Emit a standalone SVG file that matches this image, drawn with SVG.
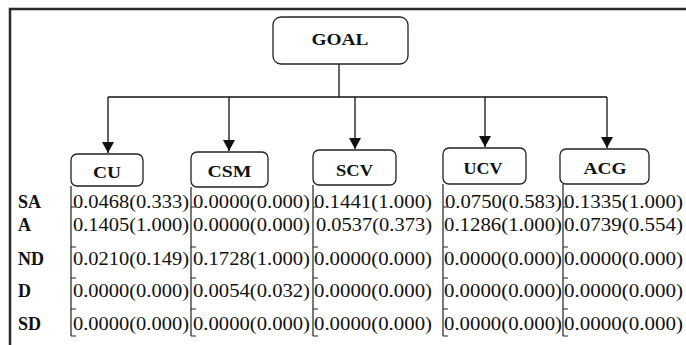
<svg xmlns="http://www.w3.org/2000/svg" width="686" height="345" viewBox="0 0 686 345">
<style>
.box{fill:#fff;stroke:#222;stroke-width:1.3}
.hd{font-family:"Liberation Serif",serif;font-weight:bold;font-size:17px;fill:#111;text-anchor:middle}
.rl{font-family:"Liberation Serif",serif;font-weight:bold;font-size:18px;fill:#111}
.v{font-family:"Liberation Serif",serif;font-size:19px;fill:#111}
.ln{stroke:#111;stroke-width:1.3;fill:none}
.br{stroke:#222;stroke-width:1.2;fill:none}
</style>
<defs>
<marker id="ah" markerUnits="userSpaceOnUse" markerWidth="12" markerHeight="13" refX="11" refY="6" orient="auto">
<path d="M0,0 L11,6 L0,12 Z" fill="#111"/>
</marker>
</defs>
<rect width="686" height="345" fill="#fff"/>
<g id="frame">
<path d="M10,345 V9 H686" fill="none" stroke="#2a2a2a" stroke-width="2.5"/>
</g>
<g id="connectors">
<path class="ln" d="M339,64 V97"/>
<path class="ln" d="M108,97 H607"/>
<path class="ln" d="M108,97 V153" marker-end="url(#ah)"/>
<path class="ln" d="M229,97 V151" marker-end="url(#ah)"/>
<path class="ln" d="M355,97 V149" marker-end="url(#ah)"/>
<path class="ln" d="M485,97 V147" marker-end="url(#ah)"/>
<path class="ln" d="M607,97 V148" marker-end="url(#ah)"/>
</g>
<g id="goal">
<rect class="box" x="273" y="17" width="135" height="47" rx="8"/>
<text class="hd" x="340" y="45" font-size="18" textLength="57" lengthAdjust="spacingAndGlyphs">GOAL</text>
</g>
<g id="cu">
<rect class="box" x="71" y="154" width="72" height="32" rx="6"/>
<text class="hd" x="107" y="178" textLength="28" lengthAdjust="spacingAndGlyphs">CU</text>
</g>
<g id="csm">
<rect class="box" x="191" y="152" width="77" height="35" rx="6"/>
<text class="hd" x="229.5" y="177" textLength="44" lengthAdjust="spacingAndGlyphs">CSM</text>
</g>
<g id="scv">
<rect class="box" x="313" y="150" width="83" height="35" rx="6"/>
<text class="hd" x="354.5" y="175.5" textLength="37" lengthAdjust="spacingAndGlyphs">SCV</text>
</g>
<g id="ucv">
<rect class="box" x="443" y="148" width="83" height="36" rx="6"/>
<text class="hd" x="483" y="173.5" textLength="39" lengthAdjust="spacingAndGlyphs">UCV</text>
</g>
<g id="acg">
<rect class="box" x="560" y="149" width="89" height="35" rx="6"/>
<text class="hd" x="605" y="173.5" textLength="43" lengthAdjust="spacingAndGlyphs">ACG</text>
</g>
<g id="brackets">
<path class="br" d="M71,186 V336 M71,207 h5 M71,247 h5 M71,278 h5 M71,309 h5 M71,336 h5"/>
<path class="br" d="M191,187 V336 M191,207 h5 M191,247 h5 M191,278 h5 M191,309 h5 M191,336 h5"/>
<path class="br" d="M313,185 V336 M313,207 h5 M313,247 h5 M313,278 h5 M313,309 h5 M313,336 h5"/>
<path class="br" d="M443,184 V336 M443,207 h5 M443,247 h5 M443,278 h5 M443,309 h5 M443,336 h5"/>
<path class="br" d="M563,184 V336 M563,207 h5 M563,247 h5 M563,278 h5 M563,309 h5 M563,336 h5"/>
</g>
<g id="row-labels">
<text class="rl" x="18" y="208">SA</text>
<text class="rl" x="18" y="231">A</text>
<text class="rl" x="18" y="265">ND</text>
<text class="rl" x="18" y="297">D</text>
<text class="rl" x="18" y="330">SD</text>
</g>
<g id="values">
<text class="v" x="73" y="208" textLength="116" lengthAdjust="spacingAndGlyphs">0.0468(0.333)</text>
<text class="v" x="73" y="231" textLength="116" lengthAdjust="spacingAndGlyphs">0.1405(1.000)</text>
<text class="v" x="73" y="265" textLength="116" lengthAdjust="spacingAndGlyphs">0.0210(0.149)</text>
<text class="v" x="73" y="297" textLength="116" lengthAdjust="spacingAndGlyphs">0.0000(0.000)</text>
<text class="v" x="73" y="330" textLength="116" lengthAdjust="spacingAndGlyphs">0.0000(0.000)</text>
<text class="v" x="193" y="208" textLength="117" lengthAdjust="spacingAndGlyphs">0.0000(0.000)</text>
<text class="v" x="193" y="231" textLength="117" lengthAdjust="spacingAndGlyphs">0.0000(0.000)</text>
<text class="v" x="193" y="265" textLength="117" lengthAdjust="spacingAndGlyphs">0.1728(1.000)</text>
<text class="v" x="193" y="297" textLength="117" lengthAdjust="spacingAndGlyphs">0.0054(0.032)</text>
<text class="v" x="193" y="330" textLength="117" lengthAdjust="spacingAndGlyphs">0.0000(0.000)</text>
<text class="v" x="314" y="208" textLength="118" lengthAdjust="spacingAndGlyphs">0.1441(1.000)</text>
<text class="v" x="316" y="231" textLength="116" lengthAdjust="spacingAndGlyphs">0.0537(0.373)</text>
<text class="v" x="314" y="265" textLength="118" lengthAdjust="spacingAndGlyphs">0.0000(0.000)</text>
<text class="v" x="314" y="297" textLength="118" lengthAdjust="spacingAndGlyphs">0.0000(0.000)</text>
<text class="v" x="314" y="330" textLength="118" lengthAdjust="spacingAndGlyphs">0.0000(0.000)</text>
<text class="v" x="445" y="208" textLength="117" lengthAdjust="spacingAndGlyphs">0.0750(0.583)</text>
<text class="v" x="444" y="231" textLength="118" lengthAdjust="spacingAndGlyphs">0.1286(1.000)</text>
<text class="v" x="444" y="265" textLength="118" lengthAdjust="spacingAndGlyphs">0.0000(0.000)</text>
<text class="v" x="444" y="297" textLength="118" lengthAdjust="spacingAndGlyphs">0.0000(0.000)</text>
<text class="v" x="444" y="330" textLength="118" lengthAdjust="spacingAndGlyphs">0.0000(0.000)</text>
<text class="v" x="564" y="208" textLength="119" lengthAdjust="spacingAndGlyphs">0.1335(1.000)</text>
<text class="v" x="564" y="231" textLength="119" lengthAdjust="spacingAndGlyphs">0.0739(0.554)</text>
<text class="v" x="564" y="265" textLength="119" lengthAdjust="spacingAndGlyphs">0.0000(0.000)</text>
<text class="v" x="564" y="297" textLength="119" lengthAdjust="spacingAndGlyphs">0.0000(0.000)</text>
<text class="v" x="564" y="330" textLength="119" lengthAdjust="spacingAndGlyphs">0.0000(0.000)</text>
</g>
</svg>
